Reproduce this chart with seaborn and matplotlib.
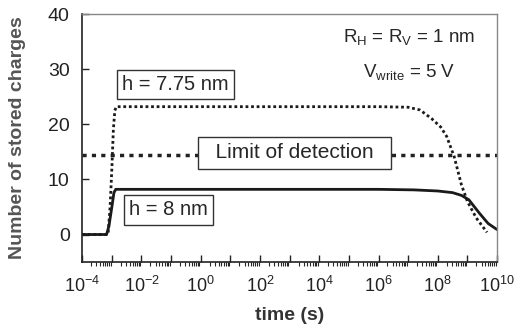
import numpy as np
import matplotlib
matplotlib.use("Agg")
import matplotlib.pyplot as plt
from matplotlib.ticker import LogLocator, FuncFormatter, NullFormatter
import seaborn as sns

# data (log10 of time in s, number of charges)
logt_8 = [-4, -3.18, -3.1, -3.0, -2.93, -2.87, 0, 6, 7.2, 8.0, 8.5, 8.8, 9.05, 9.4, 9.7, 10.0]
charges_8 = [0, 0, 1.5, 5.0, 7.6, 8.2, 8.2, 8.2, 8.1, 7.9, 7.6, 7.1, 6.3, 3.9, 2.0, 0.9]

logt_775 = [-4, -3.13, -3.06, -3.0, -2.95, -2.9, -2.85, 0, 6, 7.0, 7.4, 7.8, 8.1, 8.3, 8.55, 8.8, 9.0, 9.3, 9.66]
charges_775 = [0, 0, 5, 12, 19, 22.5, 23.2, 23.2, 23.2, 23.1, 22.6, 21.0, 19.5, 17.8, 14.2, 9.0, 6.0, 3.0, 0.4]

limit_of_detection = 14.4

sns.set_style("ticks")
plt.rcParams['font.family'] = ['Liberation Sans', 'DejaVu Sans']
plt.rcParams['mathtext.fontset'] = 'custom'
plt.rcParams['mathtext.rm'] = 'Liberation Sans'
plt.rcParams['mathtext.it'] = 'Liberation Sans'

fig = plt.figure(figsize=(5.14, 3.28), dpi=100)
ax = fig.add_axes([0.16, 0.201, 0.807, 0.756])

sns.lineplot(x=10 ** np.array(logt_8), y=charges_8, ax=ax, color='#1a1a1a', lw=2.0)
sns.lineplot(x=10 ** np.array(logt_775), y=charges_775, ax=ax, color='#1a1a1a', lw=2.0,
             linestyle=(0, (1, 1)))
ax.axhline(limit_of_detection, color='#222222', lw=2.5, linestyle=(0, (1.2, 1.5)))

ax.set_xscale('log')
ax.set_xlim(1e-4, 1e10)
ax.set_ylim(-5, 40)
ax.set_yticks([0, 10, 20, 30, 40])

ax.xaxis.set_major_locator(LogLocator(base=10, numticks=30))
ax.xaxis.set_minor_locator(LogLocator(base=10, subs=np.arange(2, 10), numticks=30))
ax.xaxis.set_major_formatter(FuncFormatter(
    lambda v, p: r'$\mathregular{10^{%d}}$' % round(np.log10(v)) if round(np.log10(v)) % 2 == 0 else ''))
ax.xaxis.set_minor_formatter(NullFormatter())

ax.tick_params(axis='both', direction='in', width=1, colors='#222222')
ax.tick_params(axis='x', which='major', length=5, pad=10, labelsize=13)
ax.tick_params(axis='x', which='minor', length=3, width=0.8)
ax.tick_params(axis='y', length=5, pad=9, labelsize=14)

for s in ['left', 'bottom']:
    ax.spines[s].set_color('#222222')
    ax.spines[s].set_linewidth(1.2)
for s in ['top', 'right']:
    ax.spines[s].set_color('#888888')
    ax.spines[s].set_linewidth(1.0)

ax.set_xlabel('time (s)', fontsize=14, fontweight='bold', color='#333333', labelpad=8)
ax.set_ylabel('Number of stored charges', fontsize=14, fontweight='bold', color='#555555', labelpad=16)

box = dict(boxstyle='square,pad=0.25', fc='white', ec='#333333', lw=1.0)
ax.text(10 ** -0.86, 27.2, 'h = 7.75 nm', fontsize=14.5, ha='center', va='center', bbox=box)
ax.text(10 ** -1.1, 4.45, 'h = 8 nm', fontsize=14.5, ha='center', va='center', bbox=box)
ax.text(10 ** 3.17, 14.8, '  Limit of detection  ', fontsize=15, ha='center', va='center',
        bbox=dict(boxstyle='square,pad=0.3', fc='white', ec='#333333', lw=1.0))

ax.text(0.947, 0.907, r'R$_\mathregular{H}$ = R$_\mathregular{V}$ = 1 nm', transform=ax.transAxes,
        fontsize=13.5, ha='right', va='center')
ax.text(0.899, 0.766, r'V$_\mathregular{write}$ = 5 V', transform=ax.transAxes,
        fontsize=13.5, ha='right', va='center')

fig.savefig('out.png', dpi=100)
